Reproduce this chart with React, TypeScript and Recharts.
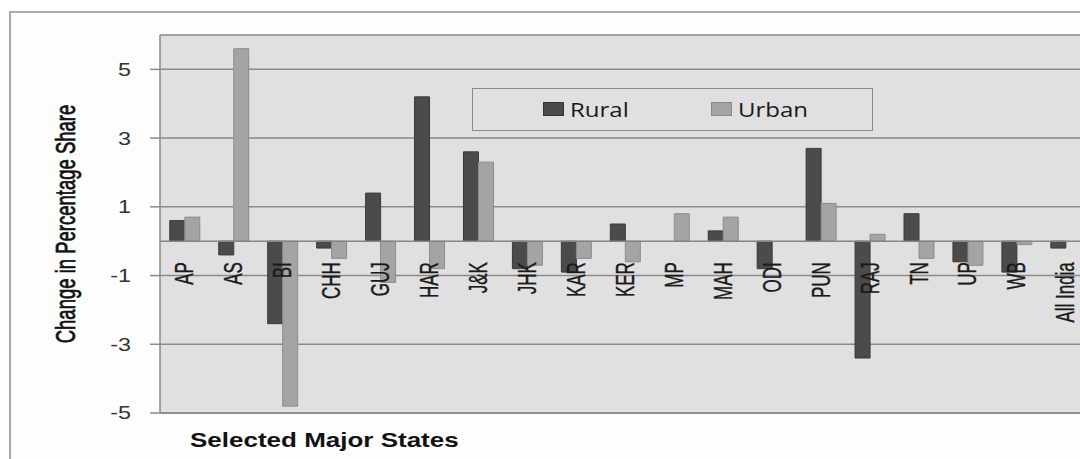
import React from 'react';
import {
  ComposedChart,
  Bar,
  Line,
  XAxis,
  YAxis,
  CartesianGrid,
  ReferenceLine,
  Legend,
} from 'recharts';

const categories = [
  'AP', 'AS', 'BI', 'CHH', 'GUJ', 'HAR', 'J&K', 'JHK', 'KAR', 'KER',
  'MP', 'MAH', 'ODI', 'PUN', 'RAJ', 'TN', 'UP', 'WB', 'All India',
];
const rural = [0.6, -0.4, -2.4, -0.2, 1.4, 4.2, 2.6, -0.8, -0.9, 0.5, 0, 0.3, -0.8, 2.7, -3.4, 0.8, -0.6, -0.9, -0.2];
const urban = [0.7, 5.6, -4.8, -0.5, -1.2, -0.8, 2.3, -0.7, -0.5, -0.6, 0.8, 0.7, 0, 1.1, 0.2, -0.5, -0.7, -0.1, 0];
const yTicks = [-5, -3, -1, 1, 3, 5];
const seriesNames = ['Rural', 'Urban'];

const RURAL = '#4b4b4b';
const URBAN = '#a4a4a4';
const GRID = '#8a8a8a';

const chartData = categories.map((state, i) => ({
  state,
  Rural: rural[i],
  Urban: urban[i],
}));

function YTick({ x, y, payload }: any) {
  return (
    <text
      transform={`translate(${x},${y}) scale(1.3,1)`}
      textAnchor="end"
      dominantBaseline="central"
      fontFamily="'Liberation Sans', Arial, sans-serif"
      fontSize={18}
      fill="#333"
    >
      {payload.value}
    </text>
  );
}

// category names sit just under the zero line, read bottom-to-top
function StateLabel({ x, y, index }: any) {
  return (
    <text
      transform={`translate(${x},${y + 21}) rotate(-90) scale(1,1.5)`}
      textAnchor="end"
      dominantBaseline="central"
      fontFamily="'Liberation Sans', Arial, sans-serif"
      fontSize={17}
      fill="#1a1a1a"
      stroke="#1a1a1a"
      strokeWidth={0.25}
    >
      {categories[index]}
    </text>
  );
}

function YTitle({ viewBox }: any) {
  const cx = viewBox.x - 34;
  const cy = viewBox.y + viewBox.height / 2;
  return (
    <text
      transform={`translate(${cx},${cy}) rotate(-90) scale(1,1.5)`}
      textAnchor="middle"
      dominantBaseline="central"
      fontFamily="'Liberation Sans', Arial, sans-serif"
      fontSize={18.5}
      fill="#111"
      stroke="#111"
      strokeWidth={0.5}
    >
      Change in Percentage Share
    </text>
  );
}

function XTitle({ viewBox }: any) {
  return (
    <text
      transform={`translate(${viewBox.x + 30},${viewBox.y + 34}) scale(1.3,1)`}
      fontFamily="'Liberation Sans', Arial, sans-serif"
      fontWeight="bold"
      fontSize={20}
      fill="#111"
    >
      Selected Major States
    </text>
  );
}

function LegendBox() {
  const items = [
    { name: seriesNames[0], color: RURAL, border: '#333', left: 70 },
    { name: seriesNames[1], color: URBAN, border: '#888', left: 238 },
  ];
  return (
    <div
      style={{
        position: 'relative',
        width: 401,
        height: 43,
        boxSizing: 'border-box',
        border: `1.5px solid ${GRID}`,
      }}
    >
      {items.map((it) => (
        <div
          key={it.name}
          style={{ position: 'absolute', left: it.left, top: 0, height: 40, display: 'flex', alignItems: 'center' }}
        >
          <span
            style={{
              display: 'inline-block',
              width: 19,
              height: 12,
              background: it.color,
              border: `1px solid ${it.border}`,
              marginRight: 6,
            }}
          />
          <span
            style={{
              display: 'inline-block',
              transform: 'scaleX(1.2)',
              transformOrigin: 'left center',
              fontFamily: "'Open Sans', sans-serif",
              fontSize: 20,
              fontWeight: 500,
              color: '#1a1a1a',
            }}
          >
            {it.name}
          </span>
        </div>
      ))}
    </div>
  );
}

export default function App() {
  return (
    <div
      style={{
        position: 'fixed',
        left: 0,
        top: 0,
        width: 1080,
        height: 459,
        overflow: 'hidden',
        background: '#ffffff',
      }}
    >
      <div
        style={{
          position: 'absolute',
          left: 9,
          top: 11,
          width: 1200,
          height: 600,
          borderLeft: '2px solid #a9a9a9',
          borderTop: '2px solid #a9a9a9',
          background: '#fdfdfd',
        }}
      />
      <div style={{ position: 'absolute', left: 0, top: 0 }}>
        <ComposedChart
          width={1100}
          height={459}
          data={chartData}
          margin={{ top: 35, right: 10, bottom: 16, left: 100 }}
          barCategoryGap="20%"
          barGap={0}
        >
          <CartesianGrid vertical={false} fill="#e0e0e0" stroke={GRID} strokeWidth={1.5} />
          <XAxis
            dataKey="state"
            height={30}
            tick={false}
            tickLine={false}
            axisLine={{ stroke: GRID, strokeWidth: 1.5 }}
            label={<XTitle />}
          />
          <YAxis
            width={60}
            domain={[-5, 6]}
            ticks={yTicks}
            interval={0}
            tickSize={10}
            tickMargin={19}
            tick={<YTick />}
            tickLine={{ stroke: GRID, strokeWidth: 1.5 }}
            axisLine={{ stroke: GRID, strokeWidth: 1.5 }}
            label={<YTitle />}
          />
          <ReferenceLine y={0} stroke="#858585" strokeWidth={1.5} />
          <Bar dataKey="Rural" fill={RURAL} stroke="#3a3a3a" strokeWidth={1} isAnimationActive={false} />
          <Bar dataKey="Urban" fill={URBAN} stroke="#8c8c8c" strokeWidth={1} isAnimationActive={false} />
          <Line
            dataKey={() => 0}
            stroke="none"
            dot={false}
            activeDot={false}
            legendType="none"
            label={<StateLabel />}
            isAnimationActive={false}
          />
          <Legend
            layout="horizontal"
            verticalAlign="middle"
            content={<LegendBox />}
            wrapperStyle={{ position: 'absolute', left: 472, top: 88, width: 401, height: 43 }}
          />
        </ComposedChart>
      </div>
    </div>
  );
}
